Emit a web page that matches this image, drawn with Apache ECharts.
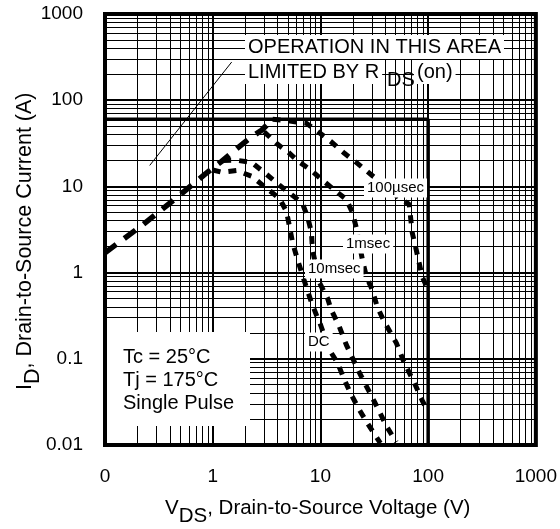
<!DOCTYPE html>
<html>
<head>
<meta charset="utf-8">
<script src="https://cdn.jsdelivr.net/npm/echarts@6/dist/echarts.min.js"></script>
<style>html,body{margin:0;padding:0;background:#fff}#c{width:560px;height:529px}</style>
</head>
<body>
<div id="c"></div>
<script>
// ---- data ----
const xDecades = [0.1, 1, 10, 100, 1000];
const yDecades = [0.01, 0.1, 1, 10, 100, 1000];
const minorSteps = [2, 3, 4, 5, 6, 7, 8, 9];

// RDS(on) limited rising line  [V, A]
const rdsOnLimit = [[0.1,1.7],[0.116,1.95],[0.225,3.6],[0.445,7.1],[0.844,13.8],[1.21,19.5],[1.6,26.2],[2.2,36.1],[2.84,44.8],[3.6,60]];
// 100 usec
const pulse100us = [[3.6,60],[5.0,58],[6.4,55],[7.4,54],[9.4,43.6],[12.4,33.4],[16.7,24.2],[21.5,19.0],[27.2,14.9],[40,10],[51.6,7.65],[66.7,6.18],[71.1,2.92],[77.4,1.85],[88,0.90],[100,0.63]];
// 1 msec
const pulse1ms = [[3.0,43],[4.0,30.8],[5.05,24.8],[6.25,19.5],[8.26,15.3],[10.2,12.1],[12.9,9.5],[17.4,7.06],[19.8,5.0],[21.5,3.34],[24.5,1.42],[26.7,0.90],[30.3,0.63],[33.7,0.40],[39.1,0.27],[50.6,0.153],[60,0.090],[74.2,0.053],[88,0.033],[100,0.024]];
// 10 msec
const pulse10ms = [[1.25,20],[1.67,20.1],[2.3,19.0],[3.16,13.8],[4.17,10.3],[5.51,7.86],[6.81,6.34],[7.58,4.48],[8.26,2.92],[8.43,1.85],[9.79,0.765],[11.6,0.51],[12.6,0.37],[15.0,0.235],[17.4,0.145],[19.8,0.103],[23.0,0.069],[27.2,0.046],[31.6,0.032],[36.7,0.022],[41.7,0.016],[50.6,0.0108]];
// DC
const dcCurve = [[1.0,15.5],[1.21,14.6],[1.67,15.3],[2.3,13.1],[3.16,9.5],[4.17,7.25],[4.84,5.12],[5.16,3.43],[5.51,2.23],[6.12,1.42],[7.42,0.67],[8.26,0.45],[9.38,0.30],[9.79,0.27],[12.1,0.127],[14.4,0.090],[16.7,0.057],[19.4,0.038],[23.0,0.0255],[27.2,0.018],[33.0,0.0124],[36,0.0105]];
// package current limit and BVdss
const packageLimit = [[0.1,60],[100,60],[100,0.01]];
// annotation pointer
const pointerLine = [[0.26,17.5],[1.5,277]];

// ---- build ----
const xMinor = [];
xDecades.slice(0,-1).forEach(d => minorSteps.forEach(m => xMinor.push(+(d*m).toPrecision(3))));
const yMinor = [];
yDecades.slice(0,-1).forEach(d => minorSteps.forEach(m => yMinor.push(+(d*m).toPrecision(3))));

const FONT = '"Liberation Sans", Arial, Helvetica, sans-serif';
const chart = echarts.init(document.getElementById('c'), null, {renderer:'canvas'});

function curve(name, data, dash, width) {
  return {
    name, type:'line', data, showSymbol:false, symbol:'none', z:5,
    lineStyle:{color:'#000', width:width, type:dash, cap:'butt'}
  };
}

function txt(x, y, s, size, bg, extra) {
  return Object.assign({
    type:'text', x:x, y:y, z:100, zlevel:0,
    style:{text:s, font: size + 'px ' + FONT, fill:'#000', verticalAlign:'middle', align:'left',
      backgroundColor: bg ? '#fff' : null, padding: bg ? [2,3,2,3] : 0}
  }, extra || {});
}

const option = {
  animation:false,
  backgroundColor:'#fff',
  grid:{left:105, right:23, top:14, bottom:84, show:true, borderColor:'#000', borderWidth:4, backgroundColor:'transparent'},
  xAxis:{
    type:'log', logBase:10, min:0.1, max:1000,
    axisLine:{show:false}, axisTick:{show:false},
    splitLine:{show:true, lineStyle:{color:'#000', width:2}},
    axisLabel:{margin:22, fontSize:19, color:'#000', fontFamily:FONT, showMinLabel:true, showMaxLabel:true,
      formatter: v => v < 0.5 ? '0' : String(Math.round(v))}
  },
  yAxis:{
    type:'log', logBase:10, min:0.01, max:1000,
    axisLine:{show:false},
    axisTick:{show:true, inside:true, length:18, lineStyle:{color:'#000', width:2}},
    splitLine:{show:true, lineStyle:{color:'#000', width:2}},
    axisLabel:{margin:22, fontSize:19, color:'#000', fontFamily:FONT, showMinLabel:true, showMaxLabel:true,
      formatter: v => String(+(+v).toPrecision(3))}
  },
  series:[
    {
      name:'grid', type:'line', data:[], z:1, silent:true,
      markLine:{
        silent:true, symbol:['none','none'], label:{show:false}, animation:false,
        lineStyle:{color:'#000', width:1, type:'solid'},
        emphasis:{disabled:true},
        data:[...xMinor.map(v => ({xAxis:v})), ...yMinor.map(v => ({yAxis:v}))]
      }
    },
    {name:'limit', type:'line', data:packageLimit, showSymbol:false, symbol:'none', z:4,
      lineStyle:{color:'#000', width:3.5, type:'solid'}},
    {name:'pointer', type:'line', data:pointerLine, showSymbol:false, symbol:'none', z:4,
      lineStyle:{color:'#000', width:1, type:'solid'}},
    curve('RDS(on)', rdsOnLimit, [14,10], 5.5),
    curve('100usec', pulse100us, [8,8], 5),
    curve('1msec', pulse1ms, [8,8], 5),
    curve('10msec', pulse10ms, [8,8], 5),
    curve('DC', dcCurve, [8,8], 5)
  ],
  graphic:[
    txt(245, 47, 'OPERATION IN THIS AREA', 20, true),
    txt(245, 72, 'LIMITED BY R', 20, true),
    txt(387, 80, 'DS', 20, false),
    txt(414, 72, '(on)', 20, true),
    txt(364, 188, '100\u00b5sec', 15, true),
    txt(343, 244, '1msec', 15, true),
    txt(305, 269, '10msec', 15, true),
    txt(305, 342, 'DC', 15, true),
    {type:'rect', z:99, shape:{x:107, y:332, width:143, height:94}, style:{fill:'#fff'}},
    txt(123, 357, 'Tc = 25\u00b0C', 20, false),
    txt(123, 380, 'Tj = 175\u00b0C', 20, false),
    txt(123, 403, 'Single Pulse', 20, false),
    {type:'group', x:25, y:230, rotation:Math.PI/2, z:100, children:[
      txt(-160, 0, 'I', 21.5, false),
      txt(-154, 8, 'D', 21.5, false),
      txt(-138.5, 0, ', Drain-to-Source Current (A)', 21.5, false)
    ]},
    txt(165, 508, 'V', 20.5, false),
    txt(178.7, 516, 'DS', 20.5, false),
    txt(207.2, 508, ', Drain-to-Source Voltage (V)', 20.5, false)
  ]
};
chart.setOption(option);
</script>
</body>
</html>
